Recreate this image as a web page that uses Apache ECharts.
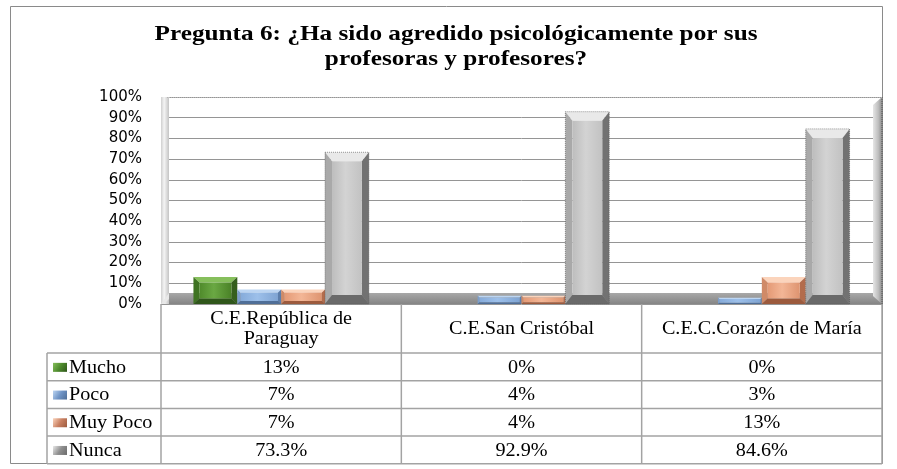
<!DOCTYPE html>
<html>
<head>
<meta charset="utf-8">
<script src="https://cdn.jsdelivr.net/npm/echarts@6/dist/echarts.min.js"></script>
<style>
  html, body { margin: 0; padding: 0; background: #ffffff; }
  #chart { width: 897px; height: 469px; }
</style>
</head>
<body>
<div id="chart"></div>
<script>
// ---- chart data ----
const titleLines = ['Pregunta 6: ¿Ha sido agredido psicológicamente por sus', 'profesoras y profesores?'];
const categories = ['C.E.República de\nParaguay', 'C.E.San Cristóbal', 'C.E.C.Corazón de María'];
const seriesNames = ['Mucho', 'Poco', 'Muy Poco', 'Nunca'];
const mucho = [13, 0, 0];
const poco = [7, 4, 3];
const muyPoco = [7, 4, 13];
const nunca = [73.3, 92.9, 84.6];
const yMax = 100;
const yStep = 10;

const seriesValues = [mucho, poco, muyPoco, nunca];

// bevelled column shades: face, top, left, right, bottom
const palettes = [
  { face: ['#4f8a2b', '#6aa843', '#4a8227'], top: '#86bf5c', left: '#3f7322', right: '#355f1d', bottom: '#2f561a', key: '#4d8a2c' },
  { face: ['#86abda', '#9dc0ea', '#7fa4d3'], top: '#bcd5f2', left: '#7b9ecb', right: '#5c7eab', bottom: '#4f6e97', key: '#6f94c6' },
  { face: ['#e49a76', '#f3b696', '#de9470'], top: '#fbd4bc', left: '#d08a67', right: '#b36c4c', bottom: '#9c5a3d', key: '#c98062' },
  { face: ['#bdbdbd', '#d3d3d3', '#c2c2c2'], top: '#e9e9e9', left: '#a9a9a9', right: '#727272', bottom: '#6a6a6a', key: '#8f8f8f' }
];

const GROUP_RATIO = 0.73;
const GRID = { left: 161, right: 15, top: 97, bottom: 165 };
const HEADER_H = 49;
const ROW_H = 27.7;
const LEGEND_LEFT = 47;
const SERIF = '"Liberation Serif", "Times New Roman", serif';
const TABLE_SCALE = 1.12;
const LINE = '#a3a3a3';

function bevelBar(sIdx, pal) {
  return function (params, api) {
    const ci = api.value(0);
    const v = api.value(1);
    if (!v) return null;
    const base = api.coord([ci, 0]);
    const top = api.coord([ci, v]);
    const band = api.size([1, 0])[0];
    const groupW = band * GROUP_RATIO;
    const bw = groupW / seriesNames.length;
    const x0 = base[0] - groupW / 2 + sIdx * bw;
    const x1 = x0 + bw;
    const y0 = top[1];
    const y1 = base[1];
    const h = y1 - y0;
    const bv = Math.min(9, h * 0.2);
    const bh = Math.min(7, h * 0.22, bw * 0.2);
    const poly = (pts, fill) => ({ type: 'polygon', shape: { points: pts }, style: { fill: fill, stroke: null } });
    const children = [
      poly([[x0, y0], [x1, y0], [x1 - bh, y0 + bv], [x0 + bh, y0 + bv]], pal.top),
      poly([[x0, y0], [x0 + bh, y0 + bv], [x0 + bh, y1 - bv], [x0, y1]], pal.left),
      poly([[x1, y0], [x1, y1], [x1 - bh, y1 - bv], [x1 - bh, y0 + bv]], pal.right),
      poly([[x0, y1], [x0 + bh, y1 - bv], [x1 - bh, y1 - bv], [x1, y1]], pal.bottom),
      {
        type: 'rect',
        shape: { x: x0 + bh, y: y0 + bv, width: Math.max(0, bw - 2 * bh), height: Math.max(0, h - 2 * bv) },
        style: {
          fill: new echarts.graphic.LinearGradient(0, 0, 1, 0, [
            { offset: 0, color: pal.face[0] },
            { offset: 0.45, color: pal.face[1] },
            { offset: 1, color: pal.face[2] }
          ])
        }
      }
    ];
    if (sIdx === 3) {
      children.push({
        type: 'rect',
        shape: { x: x0, y: y0, width: bw, height: h },
        style: { fill: null, stroke: '#555', lineWidth: 1, lineDash: [1, 1], opacity: 0.6 }
      });
    }
    return { type: 'group', children: children };
  };
}

const chart = echarts.init(document.getElementById('chart'), null, { renderer: 'canvas' });

chart.setOption({
  animation: false,
  backgroundColor: '#ffffff',
  grid: GRID,
  xAxis: {
    type: 'category',
    data: categories,
    boundaryGap: true,
    axisLine: { show: false },
    axisTick: { show: false },
    axisLabel: { show: false },
    splitLine: { show: false }
  },
  yAxis: {
    type: 'value',
    min: 0,
    max: yMax,
    interval: yStep,
    axisLine: { show: false },
    axisTick: { show: false },
    axisLabel: {
      formatter: '{value}%',
      color: '#000',
      fontFamily: '"DejaVu Sans", sans-serif',
      fontSize: 15,
      margin: 19
    },
    splitLine: { lineStyle: { color: '#959595', width: 1 } }
  },
  series: seriesValues.map((vals, s) => ({
    name: seriesNames[s],
    type: 'custom',
    z: 10,
    renderItem: bevelBar(s, palettes[s]),
    encode: { x: 0, y: 1 },
    data: vals.map((v, i) => [i, v])
  }))
});

// ---- walls, floor, data table and title ----
const centers = categories.map((c, i) => chart.convertToPixel({ xAxisIndex: 0 }, i));
const band = centers[1] - centers[0];
const plotL = centers[0] - band / 2;
const plotR = centers[centers.length - 1] + band / 2;
const yZero = chart.convertToPixel({ yAxisIndex: 0 }, 0);
const yTop = chart.convertToPixel({ yAxisIndex: 0 }, yMax);

const g = [];

// outer frame
g.push({ type: 'rect', z: 0, shape: { x: 10.5, y: 6.5, width: 872, height: 457 }, style: { fill: null, stroke: '#8a8a8a', lineWidth: 1 } });

// floor
g.push({
  type: 'rect', z: 1,
  shape: { x: plotL, y: yZero - 11, width: plotR - plotL, height: 11 },
  style: { fill: new echarts.graphic.LinearGradient(0, 0, 0, 1, [
    { offset: 0, color: '#a8a8a8' }, { offset: 1, color: '#858585' }
  ]) }
});
// left wall
g.push({
  type: 'rect', z: 1,
  shape: { x: plotL, y: yTop, width: 8, height: yZero - yTop },
  style: { fill: new echarts.graphic.LinearGradient(0, 0, 1, 0, [
    { offset: 0, color: '#cfcfcf' }, { offset: 0.4, color: '#f4f4f4' }, { offset: 1, color: '#c4c4c4' }
  ]) }
});
g.push({
  type: 'polygon', z: 1,
  shape: { points: [[plotL, yZero], [plotL + 8, yZero - 11], [plotL + 8, yZero - 5], [plotL + 3, yZero]] },
  style: { fill: '#e8e8e8' }
});
// right wall
g.push({
  type: 'polygon', z: 1,
  shape: { points: [[plotR - 9, yTop + 8], [plotR, yTop], [plotR, yZero], [plotR - 9, yZero - 8]] },
  style: { fill: new echarts.graphic.LinearGradient(0, 0, 1, 0, [
    { offset: 0, color: '#e6e6e6' }, { offset: 0.6, color: '#bdbdbd' }, { offset: 1, color: '#8f8f8f' }
  ]) }
});
g.push({ type: 'line', z: 1, shape: { x1: plotR, y1: yTop, x2: plotR, y2: yZero }, style: { stroke: '#555', lineWidth: 1, lineDash: [1, 1] } });
// back wall top edge
g.push({ type: 'line', z: 1, shape: { x1: plotL + 6, y1: yTop + 0.5, x2: plotR, y2: yTop + 0.5 }, style: { stroke: '#b5b5b5', lineWidth: 1, lineDash: [1, 1] } });

// data table grid
const tableTop = yZero;
const rowTop = tableTop + HEADER_H;
const tableBottom = rowTop + ROW_H * seriesNames.length;
const vline = (x, y1, y2) => ({ type: 'line', z: 4, shape: { x1: x, y1: y1, x2: x, y2: y2 }, style: { stroke: LINE, lineWidth: 1.5 } });
const hline = (x1, x2, y) => ({ type: 'line', z: 4, shape: { x1: x1, y1: y, x2: x2, y2: y }, style: { stroke: LINE, lineWidth: 1.5 } });

for (let i = 0; i <= categories.length; i++) {
  g.push(vline(plotL + band * i, tableTop, tableBottom));
}
g.push(vline(LEGEND_LEFT, rowTop, tableBottom));
for (let r = 0; r <= seriesNames.length; r++) {
  g.push(hline(LEGEND_LEFT, plotR, rowTop + ROW_H * r));
}

const tableText = (x, y, text, align) => ({
  type: 'text', z: 6, x: x, y: y, scaleX: TABLE_SCALE,
  style: {
    text: text, x: 0, y: 0, fill: '#000',
    font: '18px ' + SERIF, lineHeight: 20,
    textAlign: align || 'center', align: align || 'center',
    textVerticalAlign: 'middle', verticalAlign: 'middle'
  }
});

// header: category names
categories.forEach((c, i) => {
  g.push(tableText(centers[i], tableTop + HEADER_H / 2 + 1, c));
});

// rows: legend key + values
seriesNames.forEach((name, s) => {
  const cy = rowTop + ROW_H * (s + 0.5);
  const pal = palettes[s];
  g.push({
    type: 'rect', z: 6,
    shape: { x: LEGEND_LEFT + 6, y: cy - 4, width: 14, height: 9 },
    style: { fill: new echarts.graphic.LinearGradient(0, 0, 1, 1, [
      { offset: 0, color: pal.top }, { offset: 0.5, color: pal.key }, { offset: 1, color: pal.bottom }
    ]) }
  });
  g.push(tableText(LEGEND_LEFT + 22, cy + 1, name, 'left'));
  seriesValues[s].forEach((v, i) => {
    g.push(tableText(centers[i], cy + 1, v + '%'));
  });
});

// title, stretched to its box width
const measure = document.createElement('canvas').getContext('2d');
const TITLE_FONT = 'bold 21px ' + SERIF;
measure.font = TITLE_FONT;
const titleScale = 603 / measure.measureText(titleLines[0]).width;
titleLines.forEach((line, k) => {
  g.push({
    type: 'text', z: 6, x: 456, y: 35 + k * 25, scaleX: titleScale,
    style: {
      text: line, x: 0, y: 0, fill: '#000', font: TITLE_FONT,
      textAlign: 'center', align: 'center', textVerticalAlign: 'middle', verticalAlign: 'middle'
    }
  });
});

chart.setOption({ graphic: { elements: g } });
</script>
</body>
</html>
